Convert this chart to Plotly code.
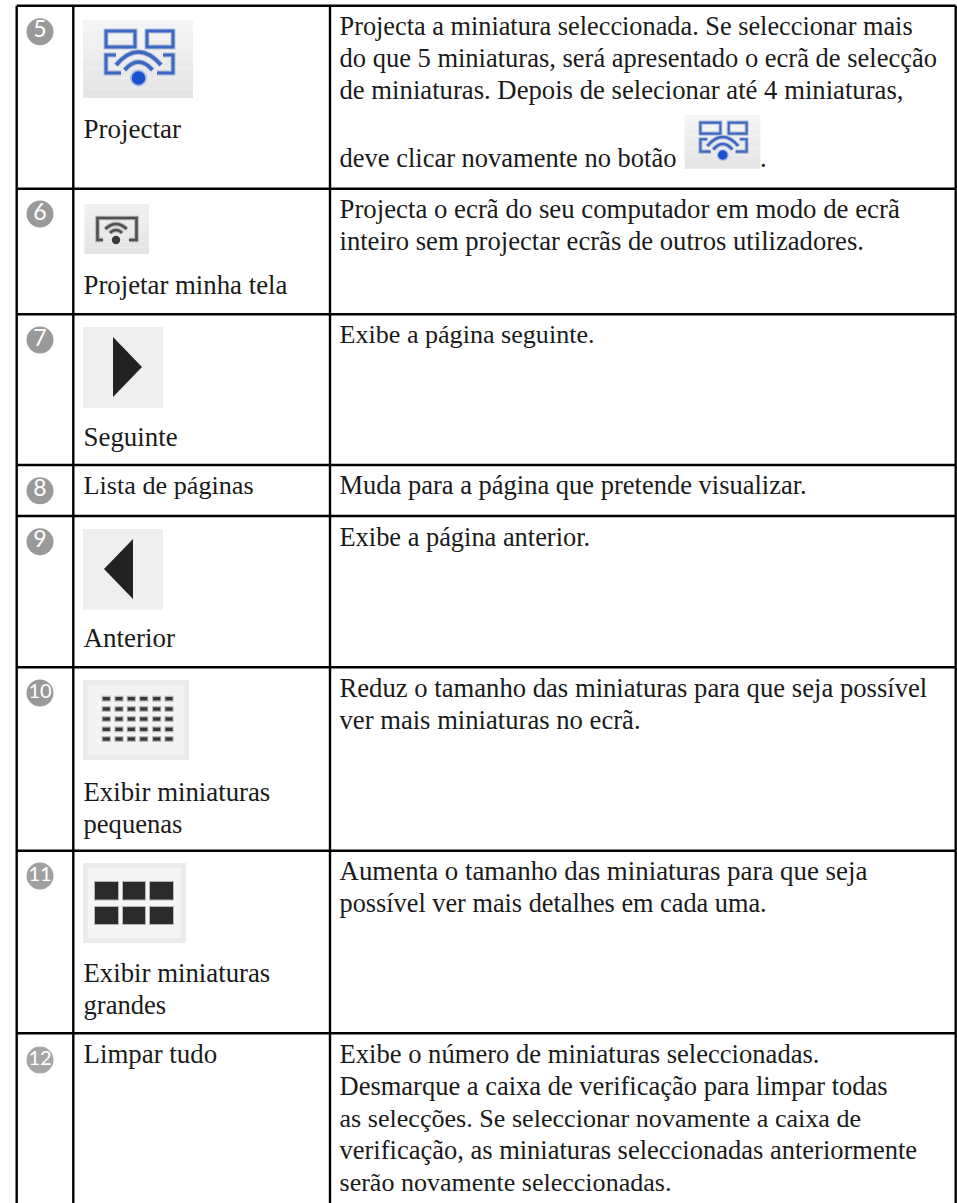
import math
import plotly.graph_objects as go

# ---- table structure ----
col_edges = [16.7, 73.3, 330, 955.7]
row_edges = [5.7, 188.7, 314.3, 465, 516, 667.3, 850.7, 1033.3]
table_bottom = 1203
badge_labels = ["5", "6", "7", "8", "9", "10", "11", "12"]
badge_y = [31.7, 214, 340, 490.7, 541.7, 693, 876, 1060]
badge_colors = ["#999999", "#999999", "#999999", "#999999", "#999999", "#999999", "#a0a0a0", "#a6a6a6"]
badge_sizes = [23, 23, 23, 23, 23, 20, 20, 20]

name_lines = ["Projectar", "Projetar minha tela", "Seguinte", "Lista de páginas", "Anterior",
              "Exibir miniaturas", "pequenas", "Exibir miniaturas", "grandes", "Limpar tudo"]
name_y = [131, 287, 439, 487.5, 640, 794, 826, 975.5, 1007.5, 1056]
name_sizes = [27, 26.8, 26.9, 26.2, 27, 26.8, 26.6, 26.8, 26.6, 26.9]

desc_lines = [
    "Projecta a miniatura seleccionada. Se seleccionar mais",
    "do que 5 miniaturas, será apresentado o ecrã de selecção",
    "de miniaturas. Depois de selecionar até 4 miniaturas,",
    "deve clicar novamente no botão",
    "Projecta o ecrã do seu computador em modo de ecrã",
    "inteiro sem projectar ecrãs de outros utilizadores.",
    "Exibe a página seguinte.",
    "Muda para a página que pretende visualizar.",
    "Exibe a página anterior.",
    "Reduz o tamanho das miniaturas para que seja possível",
    "ver mais miniaturas no ecrã.",
    "Aumenta o tamanho das miniaturas para que seja",
    "possível ver mais detalhes em cada uma.",
    "Exibe o número de miniaturas seleccionadas.",
    "Desmarque a caixa de verificação para limpar todas",
    "as selecções. Se seleccionar novamente a caixa de",
    "verificação, as miniaturas seleccionadas anteriormente",
    "serão novamente seleccionadas.",
]
desc_y = [28.5, 60.5, 92.5, 160.5, 211.5, 243.5, 336.5, 487.5, 539, 690, 722, 873, 905, 1056, 1088, 1120, 1152, 1184]
desc_sizes = [26.3, 26.5, 26.7, 26.5, 26.8, 26.65, 26.1, 26.5, 26.4, 26.66, 26.65, 26.9, 26.3, 26.6, 26.5, 26.1, 26.5, 26.05]

TEXT_FONT = "Liberation Serif"
INK = "#1a1a1a"
shapes = []


def rect(x0, y0, x1, y1, fill, opacity=1.0):
    shapes.append(dict(type="rect", x0=x0, y0=y0, x1=x1, y1=y1, fillcolor=fill,
                       line=dict(width=0), opacity=opacity, layer="above"))


def gradient(x0, y0, x1, y1, top, bottom, steps=8):
    """Vertical fade built from thin bands (top/bottom are grey levels)."""
    for i in range(steps):
        g = round(top + (bottom - top) * i / (steps - 1))
        ya = y0 + (y1 - y0) * i / steps
        yb = y0 + (y1 - y0) * (i + 1) / steps
        rect(x0, ya, x1, yb, f"rgb({g},{g},{g})")


def path(d, color=None, width=0, fill=None, opacity=1.0):
    shapes.append(dict(type="path", path=d, fillcolor=fill or "rgba(0,0,0,0)",
                       line=dict(color=color or "rgba(0,0,0,0)", width=width),
                       opacity=opacity, layer="above"))


def soft(d, color, width, halo=2.0):
    path(d, color, width + halo, opacity=0.35)
    path(d, color, width)


def arc(cx, cy, r, half_angle=60):
    a = math.radians(half_angle)
    x0, y0 = cx - r * math.sin(a), cy - r * math.cos(a)
    x1, y1 = cx + r * math.sin(a), cy - r * math.cos(a)
    qy = 2 * (cy - r) - (y0 + y1) / 2
    return f"M{x0:.1f},{y0:.1f} Q{cx:.1f},{qy:.1f} {x1:.1f},{y1:.1f}"


def circle(cx, cy, r, fill, opacity=1.0):
    shapes.append(dict(type="circle", x0=cx - r, y0=cy - r, x1=cx + r, y1=cy + r,
                       fillcolor=fill, line=dict(width=0), opacity=opacity, layer="above"))


def projector_icon(ox, oy, s):
    blue = "#3d68bf"
    X = lambda v: round(ox + v * s, 1)
    Y = lambda v: round(oy + v * s, 1)
    gradient(X(0), Y(0), X(110), Y(78), 244, 229)
    lw = 3 * s
    soft(f"M{X(23)},{Y(11)} L{X(52)},{Y(11)} L{X(52)},{Y(27)} L{X(23)},{Y(27)} Z", blue, lw)
    soft(f"M{X(64)},{Y(11)} L{X(90)},{Y(11)} L{X(90)},{Y(27)} L{X(64)},{Y(27)} Z", blue, lw)
    soft(f"M{X(33)},{Y(35)} L{X(23)},{Y(35)} L{X(23)},{Y(53)} L{X(38)},{Y(53)}", blue, lw)
    soft(f"M{X(80)},{Y(35)} L{X(90)},{Y(35)} L{X(90)},{Y(53)} L{X(74)},{Y(53)}", blue, lw)
    for r in (26, 16):
        path(arc(X(55.5), Y(58), r * s), "#eeeeee", 7 * s)
        soft(arc(X(55.5), Y(58), r * s), blue, 3.6 * s)
    circle(X(55.5), Y(58), 8.5 * s, "#6b8fe0", 0.5)
    circle(X(55.5), Y(58), 6.8 * s, "#1a50d2")


projector_icon(83, 20, 1.0)
projector_icon(684.5, 115, 0.69)

# icon 6: mirror screen
gradient(84.5, 204, 149, 254, 240, 228)
soft("M103,240 L97.5,240 L97.5,218 L136.5,218 L136.5,240 L129,240", "#505050", 2.6)
soft(arc(116, 238, 14, 50), "#505050", 2.6)
soft(arc(116, 238, 8, 50), "#505050", 2.6)
circle(116, 240, 4.2, "#3a3a3a")

# icons 7, 9: arrows
rect(83, 327, 163, 408, "#efefef")
path("M113,337 L142,367 L113,397 Z", fill="#222222")
rect(83, 529, 163, 610, "#efefef")
path("M133,539 L104,569 L133,599 Z", fill="#222222")

# icon 10: small thumbs
rect(83, 680, 189, 760, "#ebebeb")
rect(88, 685, 184, 755, "#f3f3f3")
for cy in [698.7, 709, 719, 729.3, 739]:
    for cx in [106.3, 119, 131.3, 143.7, 156.7, 169]:
        rect(cx - 4.6, cy - 3, cx + 4.6, cy + 3, "#888888", 0.55)
        rect(cx - 3.6, cy - 1.7, cx + 3.6, cy + 1.7, "#383838")

# icon 11: large thumbs
rect(83, 863, 186, 943, "#ebebeb")
rect(88, 868, 181, 938, "#f5f5f5")
for y0, y1 in [(882, 899.5), (907, 924)]:
    for x0, x1 in [(95, 118), (123, 145), (150, 173)]:
        rect(x0 - 1, y0 - 1, x1 + 1, y1 + 1, "#777777", 0.5)
        rect(x0, y0, x1, y1, "#2b2b2b")

# table grid (the page cuts the table before its bottom rule)
for x in col_edges:
    shapes.append(dict(type="line", x0=x, x1=x, y0=row_edges[0], y1=table_bottom,
                       line=dict(color="#000000", width=2.4), layer="above"))
for y in row_edges:
    shapes.append(dict(type="line", x0=col_edges[0], x1=col_edges[-1], y0=y, y1=y,
                       line=dict(color="#000000", width=2.4), layer="above"))

fig = go.Figure()
fig.add_trace(go.Scatter(
    x=[40] * len(badge_labels), y=badge_y, mode="markers+text",
    text=badge_labels, textposition="middle center",
    textfont=dict(family="Lato", size=badge_sizes, color="#ffffff"),
    marker=dict(size=27, color=badge_colors, line=dict(width=0)),
    hoverinfo="skip", showlegend=False))
fig.add_trace(go.Scatter(
    x=[83.5] * len(name_lines), y=name_y, mode="text", text=name_lines,
    textposition="middle right",
    textfont=dict(family=TEXT_FONT, size=name_sizes, color=INK),
    hoverinfo="skip", showlegend=False))
fig.add_trace(go.Scatter(
    x=[339.5] * len(desc_lines), y=desc_y, mode="text", text=desc_lines,
    textposition="middle right",
    textfont=dict(family=TEXT_FONT, size=desc_sizes, color=INK),
    hoverinfo="skip", showlegend=False))
fig.add_trace(go.Scatter(
    x=[760], y=[160.5], mode="text", text=["."], textposition="middle right",
    textfont=dict(family=TEXT_FONT, size=26.5, color=INK),
    hoverinfo="skip", showlegend=False))

fig.update_layout(
    width=957, height=1203, margin=dict(l=0, r=0, t=0, b=0),
    paper_bgcolor="#ffffff", plot_bgcolor="#ffffff", shapes=shapes,
    xaxis=dict(range=[0, 957], visible=False, fixedrange=True),
    yaxis=dict(range=[1203, 0], visible=False, fixedrange=True),
)
fig.write_html("out.html", config=dict(displayModeBar=False),
               post_script="document.body.style.margin='0';document.body.style.overflow='hidden';")
